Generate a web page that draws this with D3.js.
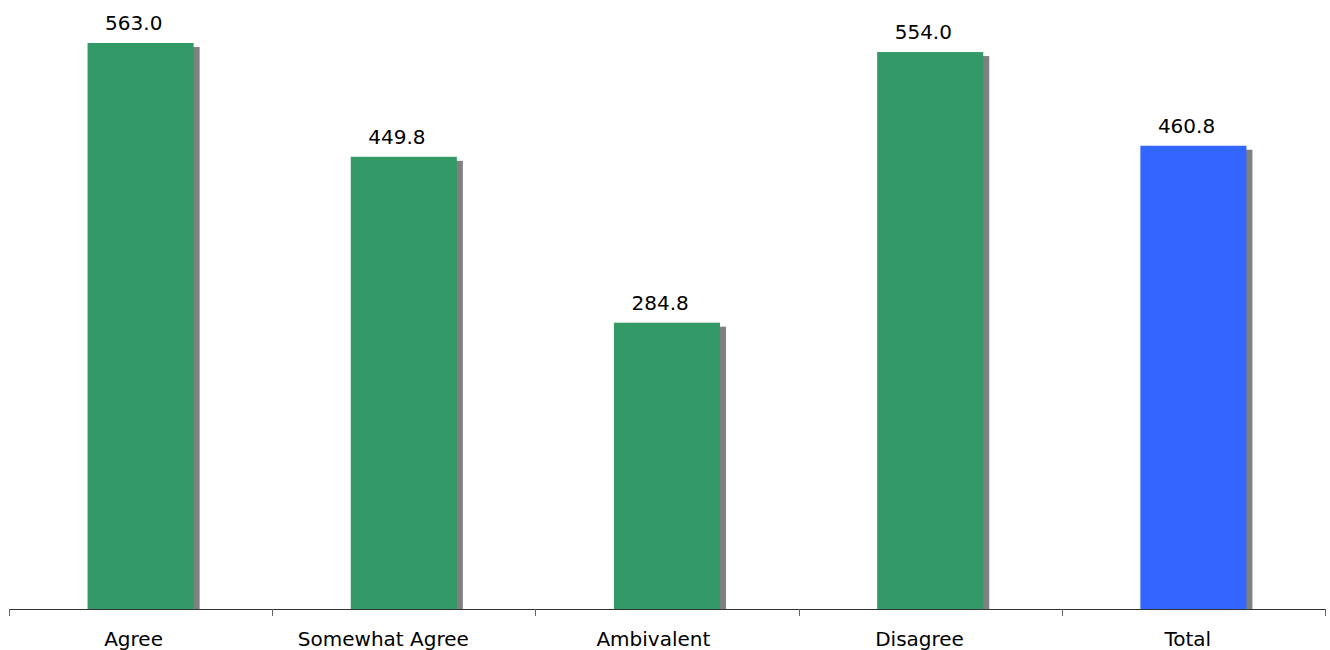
<!DOCTYPE html>
<html><head><meta charset="utf-8">
<script src="https://cdn.jsdelivr.net/npm/d3@7"></script>
<style>body{margin:0;background:#fff}svg{display:block}text{font-family:"DejaVu Sans",Verdana,sans-serif}</style>
</head><body>
<svg id="c" width="1330" height="650"></svg>
<script>
const categories = ["Agree","Somewhat Agree","Ambivalent","Disagree","Total"];
const values = [563.0, 449.8, 284.8, 554.0, 460.8];
const colors = ["#339966","#339966","#339966","#339966","#3366FF"];

const svg = d3.select("#c");
const x = d3.scaleBand().domain(categories).range([9, 1325]).padding(0);
const y = d3.scaleLinear().domain([0, 600]).range([609, 5.8]);
const bw = x.bandwidth() * 0.403;
const cx = d => x(d) + x.bandwidth() / 2;
const shiftText = function() { const w = this.getComputedTextLength(); d3.select(this).attr("dx", -0.12 * w); };

const g = svg.append("g");
g.selectAll("rect.sh").data(values).join("rect")
  .attr("x", (d,i) => cx(categories[i]) - bw/2 + 6)
  .attr("y", d => y(d) + 4)
  .attr("width", bw)
  .attr("height", d => y(0) - y(d) - 4)
  .attr("fill", "#808080");
g.selectAll("rect.bar").data(values).join("rect")
  .attr("x", (d,i) => cx(categories[i]) - bw/2)
  .attr("y", d => y(d))
  .attr("width", bw)
  .attr("height", d => y(0) - y(d))
  .attr("fill", (d,i) => colors[i]);
g.selectAll("text.v").data(values).join("text")
  .attr("x", (d,i) => cx(categories[i]))
  .attr("y", d => y(d) - 13)
  .attr("text-anchor", "middle")
  .attr("font-size", 20)
  .attr("fill", "#000")
  .text(d => d.toFixed(1))
  .each(shiftText);

const ax = svg.append("g").attr("transform", `translate(0,${y(0)})`)
  .call(d3.axisBottom(x).tickSize(0).tickPadding(23));
ax.select(".domain").attr("stroke", "#333").attr("stroke-width", 1.2);
ax.selectAll("text").attr("font-size", 20).attr("fill", "#000")
  .attr("font-family", '"DejaVu Sans",Verdana,sans-serif')
  .each(shiftText);
const bounds = categories.map(c => x(c)).concat([x.range()[1]]);
svg.append("g").selectAll("line").data(bounds).join("line")
  .attr("x1", d => Math.round(d) + 0.5).attr("x2", d => Math.round(d) + 0.5)
  .attr("y1", y(0)).attr("y2", y(0) + 7)
  .attr("stroke", "#666").attr("stroke-width", 1);
</script>
</body></html>
